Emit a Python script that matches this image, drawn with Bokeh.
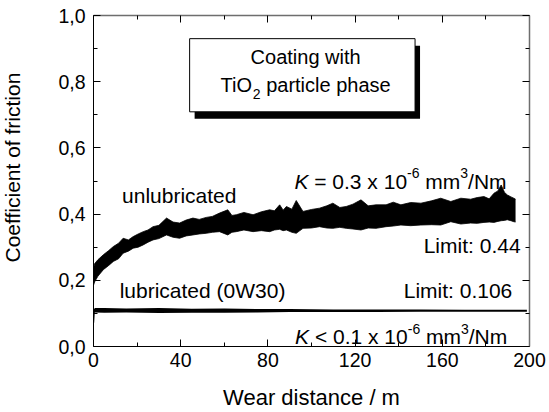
import math
from bokeh.plotting import figure
from bokeh.models import (Range1d, LinearAxis, FixedTicker, CustomJSTickFormatter,
                          Label, BoxAnnotation, ColumnDataSource, Title)
from bokeh.embed import file_html
from bokeh.resources import INLINE

# ---------------- data ----------------
unlub_x = [0, 0.5, 2, 4.5, 7, 9.1, 11.5, 13.6, 16, 18.2,
           20.5, 22.8, 25, 27.3, 30, 33.5, 36.5, 39.5, 42.5, 45.6,
           48.5, 51.7, 54.5, 57.8, 61.6, 63.5, 65.5, 69, 73.2, 77,
           80.8, 83, 85.4, 87, 88.5, 91, 93, 96.1, 100, 103.7,
           107, 109.8, 113, 115.9, 119, 122.7, 126, 129.6, 134.2, 137.5,
           141, 145.5, 150.2, 155, 159.3, 163.9, 168.5, 173, 176, 179.1,
           181.5, 183.7, 185.5, 187, 188.5, 189.8, 191.5, 192.8, 193.6]
unlub_upper = [0.235, 0.250, 0.262, 0.277, 0.290, 0.302, 0.312, 0.327, 0.322, 0.332,
               0.340, 0.347, 0.352, 0.362, 0.366, 0.388, 0.376, 0.373, 0.382, 0.388,
               0.384, 0.390, 0.393, 0.403, 0.413, 0.396, 0.398, 0.405, 0.398, 0.407,
               0.413, 0.410, 0.428, 0.412, 0.423, 0.415, 0.441, 0.408, 0.414, 0.418,
               0.425, 0.433, 0.420, 0.423, 0.430, 0.443, 0.425, 0.428, 0.428, 0.436,
               0.428, 0.435, 0.433, 0.440, 0.448, 0.438, 0.448, 0.445, 0.450, 0.453,
               0.446, 0.463, 0.470, 0.488, 0.466, 0.458, 0.452, 0.448, 0.445]
unlub_lower = [0.185, 0.195, 0.212, 0.232, 0.245, 0.257, 0.265, 0.282, 0.288, 0.297,
               0.300, 0.307, 0.315, 0.322, 0.326, 0.337, 0.330, 0.327, 0.334, 0.337,
               0.340, 0.342, 0.345, 0.347, 0.337, 0.345, 0.347, 0.352, 0.347, 0.350,
               0.347, 0.352, 0.354, 0.350, 0.352, 0.345, 0.342, 0.357, 0.358, 0.362,
               0.358, 0.357, 0.360, 0.357, 0.355, 0.352, 0.358, 0.357, 0.362, 0.364,
               0.367, 0.365, 0.367, 0.368, 0.367, 0.377, 0.370, 0.373, 0.372, 0.375,
               0.376, 0.375, 0.378, 0.380, 0.381, 0.383, 0.380, 0.377, 0.376]

lub_x = [0, 0.3, 0.6, 5, 15, 30, 45, 60, 75, 90, 110, 130, 150, 170, 185, 198.8]
lub_upper = [0.112, 0.113, 0.116, 0.116, 0.115, 0.116, 0.114, 0.115, 0.113, 0.113,
             0.112, 0.112, 0.112, 0.111, 0.111, 0.111]
lub_lower = [0.072, 0.072, 0.103, 0.102, 0.103, 0.101, 0.102, 0.102, 0.103, 0.104,
             0.104, 0.104, 0.105, 0.105, 0.105, 0.105]

x_major = [0, 40, 80, 120, 160, 200]
x_minor = [20, 60, 100, 140, 180]
y_major = [0.0, 0.2, 0.4, 0.6, 0.8, 1.0]
y_minor = [0.1, 0.3, 0.5, 0.7, 0.9]

x_label = "Wear distance / m"
y_label = "Coefficient of friction"

# ---------------- layout ----------------
W, H = 549, 412
BL, BR, BT, BB = 92, 20, 15, 65
FW = W - BL - BR
FH = H - BT - BB
DX = 200.0 / FW
DY = 1.0 / FH
FONT = "Liberation Sans"

p = figure(width=W, height=H, x_range=Range1d(0, 200), y_range=Range1d(0, 1),
           output_backend="svg", toolbar_location=None,
           min_border_left=BL, min_border_right=BR, min_border_top=BT, min_border_bottom=BB)
p.xgrid.visible = False
p.ygrid.visible = False
p.outline_line_color = None
p.background_fill_color = "white"
p.border_fill_color = "white"

def style_axis(ax, labels=True, color="black", width=1):
    ax.major_tick_in = 7
    ax.major_tick_out = 0
    ax.minor_tick_in = 4
    ax.minor_tick_out = 0
    ax.axis_line_color = color
    ax.axis_line_width = width
    ax.major_tick_line_color = "black"
    ax.minor_tick_line_color = "black"
    ax.major_label_text_font = FONT
    ax.major_label_text_color = "black"
    ax.axis_label_text_font = FONT
    ax.axis_label_text_font_style = "normal"
    ax.axis_label_text_color = "black"
    if not labels:
        ax.major_label_text_font_size = "0px"
        ax.major_label_standoff = 0
        ax.formatter = CustomJSTickFormatter(code="return '';")

xa = p.xaxis[0]
style_axis(xa)
xa.ticker = FixedTicker(ticks=x_major, minor_ticks=x_minor)
xa.major_label_text_font_size = "19.5px"
xa.major_label_standoff = 6
xa.axis_label = x_label
xa.axis_label_text_font_size = "22px"
xa.axis_label_standoff = 15

ya = p.yaxis[0]
style_axis(ya)
ya.ticker = FixedTicker(ticks=y_major, minor_ticks=y_minor)
ya.formatter = CustomJSTickFormatter(code="return tick.toFixed(1).replace('.', ',');")
ya.major_label_text_font_size = "19.5px"
ya.major_label_standoff = 8
# invisible spacer label: widens the axis panel so the title below sits further left
ya.axis_label = "\u00a0"
ya.axis_label_text_font_size = "2px"
ya.axis_label_standoff = 25

top = LinearAxis(ticker=FixedTicker(ticks=x_major, minor_ticks=x_minor))
style_axis(top, labels=False, color="#6e6e6e", width=1.5)
p.add_layout(top, "above")
right = LinearAxis(ticker=FixedTicker(ticks=y_major, minor_ticks=y_minor))
style_axis(right, labels=False, color="#6e6e6e", width=1.5)
p.add_layout(right, "right")

# y-axis title as a side-panel title (so it is not clipped to the frame)
ytitle = Title(text=y_label, align="left", offset=84, standoff=0,
               vertical_align="top",
               text_font=FONT, text_font_size="21px", text_font_style="normal",
               text_color="black")
p.add_layout(ytitle, "left")

# ---------------- data marks ----------------
src_u = ColumnDataSource(dict(x=unlub_x, lo=unlub_lower, hi=unlub_upper))
p.varea(x="x", y1="lo", y2="hi", source=src_u, fill_color="black")
p.line(x="x", y="hi", source=src_u, line_color="black", line_width=0.8)
p.line(x="x", y="lo", source=src_u, line_color="black", line_width=0.8)

src_l = ColumnDataSource(dict(x=lub_x, lo=lub_lower, hi=lub_upper))
p.varea(x="x", y1="lo", y2="hi", source=src_l, fill_color="black")

# ---------------- title box ----------------
box_l, box_r, box_t, box_b = 44.1, 147.5, 0.930, 0.709
p.add_layout(BoxAnnotation(left=box_l + 5 * DX, right=box_r + 5 * DX,
                           top=box_t - 7 * DY, bottom=box_b - 7 * DY,
                           fill_color="black", fill_alpha=1, line_color=None))
p.add_layout(BoxAnnotation(left=box_l, right=box_r, top=box_t, bottom=box_b,
                           fill_color="white", fill_alpha=1,
                           line_color="black", line_width=1, line_alpha=1))

# ---------------- text helpers ----------------
AW = {' ': 278, '(': 333, ')': 333, ',': 278, '-': 333, '.': 278, '/': 278, ':': 278,
      '<': 584, '=': 584, 'C': 722, 'K': 667, 'L': 556, 'N': 722, 'O': 778, 'T': 611,
      'W': 944, 'a': 556, 'b': 556, 'c': 500, 'd': 556, 'e': 556, 'g': 556, 'h': 556,
      'i': 222, 'l': 222, 'm': 833, 'n': 556, 'o': 556, 'p': 556, 'r': 333, 's': 500,
      't': 278, 'u': 556, 'w': 722, 'x': 500}

def tw(s, size):
    return sum(AW.get(c, 556) for c in s) * size / 1000.0

def add_rich(pieces, x, y, align="left"):
    total = sum(tw(t, s) for t, s, r, st in pieces)
    off = {"left": 0.0, "right": -total, "center": -total / 2.0}[align]
    for t, s, r, st in pieces:
        lead = len(t) - len(t.lstrip(' '))
        p.add_layout(Label(x=x, y=y + r * DY, text=t.strip(' '),
                           x_offset=off + tw(' ' * lead, s),
                           text_font=FONT, text_font_size=f"{s}px", text_font_style=st,
                           text_align="left", text_baseline="alphabetic",
                           text_color="black"))
        off += tw(t, s)

FS = 21
SUP = 14
add_rich([("Coating with", 20, 0, "normal")], 97.3, 0.876, "center")
add_rich([("TiO", 20, 0, "normal"), ("2", SUP, -9, "normal"),
          (" particle phase", 20, 0, "normal")], 97.3, 0.790, "center")

add_rich([("unlubricated", FS, 0, "normal")], 13.1, 0.455, "left")
add_rich([("K", FS, 0, "italic"), (" = 0.3 x 10", FS, 0, "normal"), ("-6", SUP, 8, "normal"),
          (" mm", FS, 0, "normal"), ("3", SUP, 8, "normal"), ("/Nm", FS, 0, "normal")],
         189.5, 0.500, "right")
add_rich([("Limit: 0.44", FS, 0, "normal")], 195.9, 0.305, "right")
add_rich([("lubricated (0W30)", FS, 0, "normal")], 12.0, 0.170, "left")
add_rich([("Limit: 0.106", FS, 0, "normal")], 192.1, 0.170, "right")
add_rich([("K", FS, 0, "italic"), (" < 0.1 x 10", FS, 0, "normal"), ("-6", SUP, 8, "normal"),
          (" mm", FS, 0, "normal"), ("3", SUP, 8, "normal"), ("/Nm", FS, 0, "normal")],
         189.8, 0.030, "right")

with open("out.html", "w") as f:
    f.write(file_html(p, INLINE))
